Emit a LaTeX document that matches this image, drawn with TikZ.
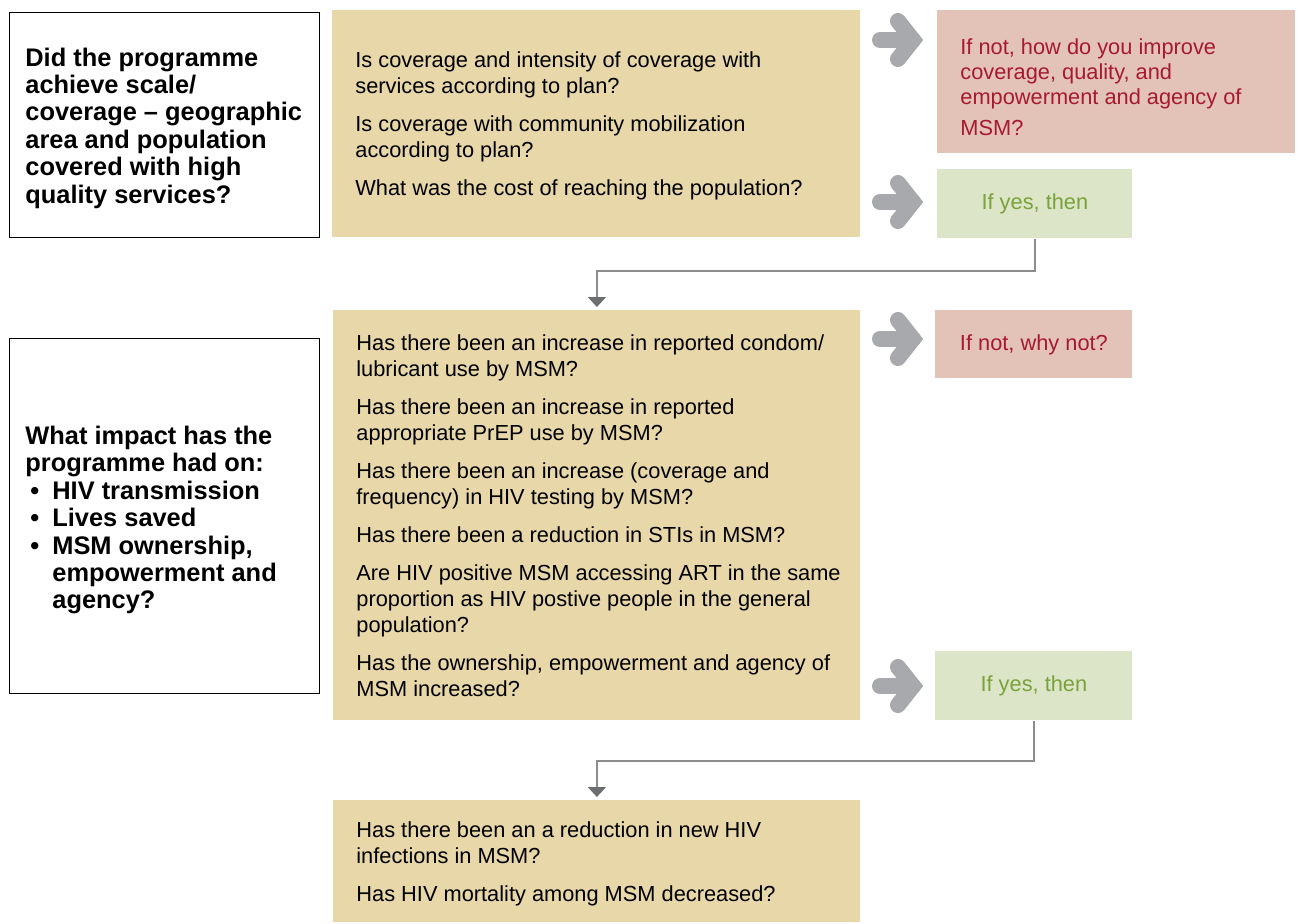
\documentclass[tikz,border=0pt]{standalone}
\usepackage{fontspec}
\setmainfont{Liberation Sans}
\usetikzlibrary{arrows.meta,calc}
\definecolor{tanfill}{RGB}{232,215,169}
\definecolor{rosefill}{RGB}{227,195,184}
\definecolor{greenfill}{RGB}{221,229,200}
\definecolor{redtxt}{RGB}{166,25,46}
\definecolor{greentxt}{RGB}{122,162,58}
\definecolor{arrgray}{RGB}{167,169,172}
\definecolor{linegray}{RGB}{140,140,140}
\definecolor{headgray}{RGB}{109,110,113}
\newcommand\bodyfnt{\fontsize{10.9}{13}\selectfont}
\newcommand\leftfnt{\fontsize{12.7}{13.7}\selectfont\bfseries}
\newcommand\bul{\makebox[13.5pt][l]{\hspace{2.5pt}\textbullet}}
\begin{document}
\begin{tikzpicture}[x=0.5pt,y=-0.5pt,
  boxbase/.style={inner sep=0pt, anchor=north west},
  qbox/.style={boxbase, draw=black, line width=0.6pt, fill=white},
  tanbox/.style={boxbase, fill=tanfill},
  rosebox/.style={boxbase, fill=rosefill, font=\bodyfnt, text=redtxt},
  greenbox/.style={boxbase, fill=greenfill, font=\bodyfnt, text=greentxt},
  bodytxt/.style={inner sep=0pt, align=left, font=\bodyfnt, anchor=west},
  lefttxt/.style={inner sep=0pt, align=left, font=\leftfnt, anchor=west},
  conn/.style={draw=linegray, line width=1pt, -{Triangle[width=9pt,length=5pt,color=headgray]}, shorten >=1.5pt},
  grayarrow/.pic={
    \draw[arrgray, line width=8pt, line cap=round] (-33,0) -- (0,0);
    \draw[arrgray, line width=8pt, line cap=round, line join=miter] (-15,-19) -- (0,0) -- (-15,19);
  }]
\useasboundingbox (0,0) rectangle (1298,923);

% boxes
\node[qbox, minimum width=155pt, minimum height=112.5pt] (q1) at (9,12) {};
\node[tanbox, minimum width=264pt, minimum height=113.5pt] (t1) at (332,10) {};
\node[rosebox, minimum width=179pt, minimum height=71.5pt] (r1) at (937,10) {};
\node[greenbox, minimum width=97.5pt, minimum height=34.5pt] (g1) at (937,169) {If yes, then};

\node[qbox, minimum width=155pt, minimum height=177.5pt] (q2) at (9,338) {};
\node[tanbox, minimum width=263.5pt, minimum height=205pt] (t2) at (333,310) {};
\node[rosebox, minimum width=98.5pt, minimum height=34pt] (r2) at (935,310) {If not, why not?};
\node[greenbox, minimum width=98.5pt, minimum height=34.5pt] (g2) at (935,651) {If yes, then};

\node[tanbox, minimum width=263.5pt, minimum height=61pt] (t3) at (333,800) {};

% texts
\node[lefttxt] (q1x) at ([xshift=8pt,yshift=-1.5pt]q1.west) {Did the programme\\ achieve scale/\\ coverage – geographic\\ area and population\\ covered with high\\ quality services?};

\node[lefttxt] (q2x) at ([xshift=8pt,yshift=-2pt]q2.west) {What impact has the\\ programme had on:\\ \bul HIV transmission\\ \bul Lives saved\\ \bul MSM ownership,\\ \hspace*{13.5pt}empowerment and\\ \hspace*{13.5pt}agency?};

\node[bodytxt] (t1x) at ([xshift=11.5pt,yshift=-1pt]t1.west) {Is coverage and intensity of coverage with\\ services according to plan?\\[6pt] Is coverage with community mobilization\\ according to plan?\\[6pt] What was the cost of reaching the population?};

\node[bodytxt, text=redtxt, font=\fontsize{10.9}{12.5}\selectfont] (r1x) at ([xshift=11.5pt,yshift=-2.5pt]r1.west) {If not, how do you improve\\ coverage, quality, and\\ empowerment and agency of\\[3pt] MSM?};

\node[bodytxt] (t2x) at ([xshift=11.5pt]t2.west) {Has there been an increase in reported condom/\\ lubricant use by MSM?\\[6pt] Has there been an increase in reported\\ appropriate PrEP use by MSM?\\[6pt] Has there been an increase (coverage and\\ frequency) in HIV testing by MSM?\\[6pt] Has there been a reduction in STIs in MSM?\\[6pt] Are HIV positive MSM accessing ART in the same\\ proportion as HIV postive people in the general\\ population?\\[6pt] Has the ownership, empowerment and agency of\\ MSM increased?};

\node[bodytxt] (t3x) at ([xshift=11.5pt,yshift=-1pt]t3.west) {Has there been an a reduction in new HIV\\ infections in MSM?\\[6pt] Has HIV mortality among MSM decreased?};

% gray arrows
\pic at (913,40) {grayarrow};
\pic at (913,202) {grayarrow};
\pic at (913,339) {grayarrow};
\pic at (913,686) {grayarrow};

% connectors
\draw[conn] (g1.south) -- ++(0,32) -| (t2.north);
\draw[conn] (g2.south) -- ++(0,40) -| (t3.north);
\end{tikzpicture}
\end{document}
